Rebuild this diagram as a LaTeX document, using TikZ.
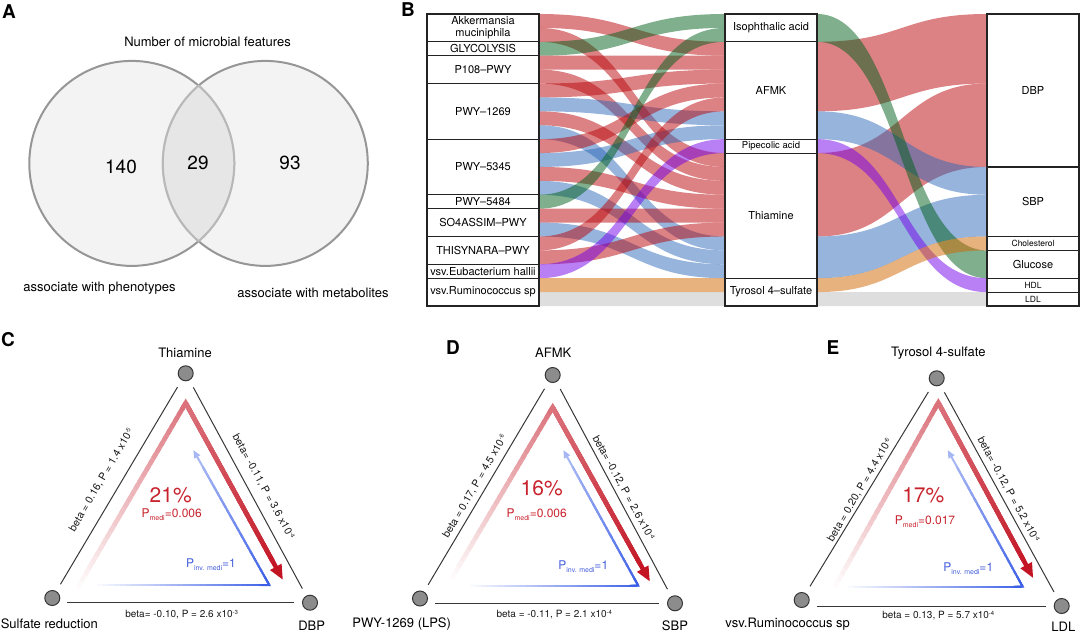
\documentclass[tikz,border=0pt]{standalone}
\usepackage{fontspec}
\setmainfont{TeX Gyre Heros}
\usetikzlibrary{arrows.meta,calc}
\definecolor{sred}{RGB}{185,5,10}
\definecolor{sblue}{RGB}{45,105,185}
\definecolor{sgreen}{RGB}{0,95,25}
\definecolor{spurple}{RGB}{115,0,235}
\definecolor{sorange}{RGB}{209,101,0}
\definecolor{sgray}{RGB}{189,189,189}
\definecolor{mred}{RGB}{195,20,35}
\definecolor{mblue}{RGB}{60,95,230}
\definecolor{tred}{RGB}{200,35,45}
\definecolor{tblue}{RGB}{70,95,220}
\definecolor{vgray}{RGB}{140,140,140}
\definecolor{vdark}{RGB}{55,55,55}
\definecolor{vennfill}{RGB}{243,243,243}
\definecolor{vennline}{RGB}{150,150,150}
\definecolor{vennover}{RGB}{218,218,218}
\definecolor{boxline}{RGB}{35,35,35}

\newcommand\fsz[1]{\fontsize{#1}{#1}\selectfont}
\newcommand\supx[1]{\raisebox{0.6ex}{\fsz{6}#1}}
\newcommand\subx[1]{\raisebox{-0.5ex}{\fsz{7}#1}}

\newcommand\sankeyLM[3]{%
  \fill[#1, fill opacity=0.5] (539,{14+#2*13.905}) .. controls (632,{14+#2*13.905}) and (632,{14+#3*13.905}) .. (725,{14+#3*13.905}) -- (725,{14+(#3+1)*13.905}) .. controls (632,{14+(#3+1)*13.905}) and (632,{14+(#2+1)*13.905}) .. (539,{14+(#2+1)*13.905}) -- cycle;}
\newcommand\sankeyMR[4]{%
  \fill[#1, fill opacity=0.5] (817,{14+#2*13.905}) .. controls (902,{14+#2*13.905}) and (902,{14+#3*13.905}) .. (987,{14+#3*13.905}) -- (987,{14+(#3+#4)*13.905}) .. controls (902,{14+(#3+#4)*13.905}) and (902,{14+(#2+#4)*13.905}) .. (817,{14+(#2+#4)*13.905}) -- cycle;}
\newcommand\stratum[7]{%
  \node[strat, minimum width=#3pt, minimum height={(#5-#4)*13.905pt}, font={\fsz{#6}}] (#1) at (#2,{14+(#4+#5)*6.9525}) {#7};}

\newcommand\redarrow[3]{%
  \draw[line width=4.5pt, mred, -{Triangle[length=15pt,width=12pt]}] (#2) -- (#3);
  \foreach \i in {1,...,30}{%
    \pgfmathsetmacro\pa{(\i-1)/30}%
    \pgfmathsetmacro\pb{min(1,(\i+0.7)/30)}%
    \pgfmathtruncatemacro\pc{2+58*(\i-0.5)/30}%
    \draw[line width=4.5pt, mred!\pc!white] ($(#1)!\pa!(#2)$) -- ($(#1)!\pb!(#2)$);
  }%
  \foreach \i in {1,...,25}{%
    \pgfmathsetmacro\pa{0.9*(\i-1)/25}%
    \pgfmathsetmacro\pb{0.9*min(1,(\i+0.7)/25)}%
    \pgfmathtruncatemacro\pc{60+38*(\i-0.5)/25}%
    \draw[line width=4.5pt, mred!\pc!white] ($(#2)!\pa!(#3)$) -- ($(#2)!\pb!(#3)$);
  }%
  \draw[line width=4.5pt, mred!60!white, line join=miter] ($(#2)!0.04!(#1)$) -- (#2) -- ($(#2)!0.04!(#3)$);
}
\newcommand\bluearrow[3]{%
  \draw[line width=2pt, mblue!45!white, -{Triangle[length=8pt,width=6.5pt]}] (#2) -- (#3);
  \foreach \i in {1,...,30}{%
    \pgfmathsetmacro\pa{(\i-1)/30}%
    \pgfmathsetmacro\pb{min(1,(\i+0.7)/30)}%
    \pgfmathtruncatemacro\pc{3+97*(\i-0.5)/30}%
    \draw[line width=2pt, mblue!\pc!white] ($(#1)!\pa!(#2)$) -- ($(#1)!\pb!(#2)$);
  }%
  \foreach \i in {1,...,20}{%
    \pgfmathsetmacro\pa{0.88*(\i-1)/20}%
    \pgfmathsetmacro\pb{0.88*min(1,(\i+0.7)/20)}%
    \pgfmathtruncatemacro\pc{100-53*(\i-0.5)/20}%
    \draw[line width=2pt, mblue!\pc!white] ($(#2)!\pa!(#3)$) -- ($(#2)!\pb!(#3)$);
  }%
  \draw[line width=2pt, mblue, line join=miter] ($(#2)!0.05!(#1)$) -- (#2) -- ($(#2)!0.05!(#3)$);
}

\tikzset{
  strat/.style={draw=boxline, line width=1.1pt, fill=white, inner sep=0pt, align=center},
  vtx/.style={circle, minimum size=15pt, inner sep=0pt, fill=vgray, draw=vdark, line width=1pt},
  vlab/.style={font={\fsz{13}}, inner sep=0pt},
  triedge/.style={draw=vdark, line width=1pt, shorten <=8pt, shorten >=8pt},
  elab/.style={font={\fsz{10}}, inner sep=0pt, text=black!90},
  slab/.style={font={\fsz{10.5}}, inner sep=0pt, text=black!90},
  plab/.style={font={\bfseries\fsz{19}}, inner sep=0pt},
  pctlab/.style={font={\fsz{21}}, text=tred, inner sep=0pt},
  pmed/.style={font={\fsz{12}}, text=tred, inner sep=0pt},
  pinv/.style={font={\fsz{12}}, text=tblue, inner sep=0pt},
  vtext/.style={font={\fsz{13}}, inner sep=0pt},
  vnum/.style={font={\fsz{19}}, inner sep=0pt},
}

\begin{document}
\begin{tikzpicture}[x=1pt,y=-1pt]
\useasboundingbox (0,0) rectangle (1080,635);

% ---------------- Panel A ----------------
\node[plab] (labA) at (9,12) {A};
\node[vtext] (vtitle) at (207.5,42) {Number of microbial features};
\fill[vennfill] (131.8,163.4) circle (102.5pt);
\fill[vennfill] (265.3,163.4) circle (102.5pt);
\draw[vennline, line width=2pt] (131.8,163.4) circle (102.5pt);
\draw[vennline, line width=2pt] (265.3,163.4) circle (102.5pt);
\begin{scope}
  \clip (131.8,163.4) circle (103.5pt);
  \fill[vennover, opacity=0.5] (265.3,163.4) circle (103.5pt);
\end{scope}
\node[vnum] (n140) at (121,167) {140};
\node[vnum] (n29) at (198,163) {29};
\node[vnum] (n93) at (290,163) {93};
\node[vtext] (vphen) at (99.5,288) {associate with phenotypes};
\node[vtext] (vmeta) at (313,293) {associate with metabolites};

% ---------------- Panel B ----------------
\node[plab] (labB) at (408,10) {B};
\sankeyLM{sred}{0}{2}
\sankeyLM{sred}{1}{10}
\sankeyLM{sgreen}{2}{0}
\sankeyLM{sred}{3}{3}
\sankeyLM{sred}{4}{11}
\sankeyLM{sred}{5}{4}
\sankeyLM{sblue}{6}{7}
\sankeyLM{sred}{7}{12}
\sankeyLM{sblue}{8}{16}
\sankeyLM{sred}{9}{5}
\sankeyLM{sblue}{10}{8}
\sankeyLM{sred}{11}{13}
\sankeyLM{sblue}{12}{17}
\sankeyLM{sgreen}{13}{1}
\sankeyLM{sred}{14}{14}
\sankeyLM{sblue}{15}{18}
\sankeyLM{sred}{16}{6}
\sankeyLM{sred}{17}{15}
\sankeyLM{spurple}{18}{9}
\sankeyLM{sorange}{19}{19}
\sankeyLM{sgray}{20}{20}

\sankeyMR{sred}{2}{0}{5}
\sankeyMR{sred}{10}{5}{6}
\sankeyMR{sblue}{7}{11}{2}
\sankeyMR{sblue}{16}{13}{3}
\sankeyMR{sgreen}{0}{17}{2}
\sankeyMR{spurple}{9}{19}{1}
\sankeyMR{sorange}{19}{16}{1}
\sankeyMR{sgray}{20}{20}{1}

\stratum{akk}{483}{112}{0}{2}{11}{Akkermansia\\[1pt]muciniphila}
\stratum{gly}{483}{112}{2}{3}{11}{GLYCOLYSIS}
\stratum{p108}{483}{112}{3}{5}{11}{P108–PWY}
\stratum{pa}{483}{112}{5}{9}{11}{PWY–1269}
\stratum{pb}{483}{112}{9}{13}{11}{PWY–5345}
\stratum{pc}{483}{112}{13}{14}{11}{PWY–5484}
\stratum{so4}{483}{112}{14}{16}{11}{SO4ASSIM–PWY}
\stratum{thisy}{483}{112}{16}{18}{11}{THISYNARA–PWY}
\stratum{eub}{483}{112}{18}{19}{11}{vsv.Eubacterium hallii}
\stratum{rum}{483}{112}{19}{21}{11}{vsv.Ruminococcus sp}

\stratum{iso}{771}{92}{0}{2}{11}{Isophthalic acid}
\stratum{afmk}{771}{92}{2}{9}{11}{AFMK}
\stratum{pip}{771}{92}{9}{10}{9.5}{Pipecolic acid}
\stratum{thia}{771}{92}{10}{19}{11}{Thiamine}
\stratum{tyr}{771}{92}{19}{21}{11}{Tyrosol 4–sulfate}

\stratum{dbp}{1033}{92}{0}{11}{11}{DBP}
\stratum{sbp}{1033}{92}{11}{16}{11}{SBP}
\stratum{chol}{1033}{92}{16}{17}{8.5}{Cholesterol}
\stratum{glu}{1033}{92}{17}{19}{11}{Glucose}
\stratum{hdl}{1033}{92}{19}{20}{8.5}{HDL}
\stratum{ldl}{1033}{92}{20}{21}{8.5}{LDL}

% ---------------- Panel C ----------------
\node[plab] (labC) at (8,340) {C};
\coordinate (Crs) at (78,587);
\coordinate (Cra) at (185.7,403);
\coordinate (Crt) at (283,580);
\coordinate (Cbs) at (96.7,585);
\coordinate (Cbc) at (269.3,585);
\coordinate (Cbt) at (193.3,450);
\redarrow{Crs}{Cra}{Crt}
\bluearrow{Cbs}{Cbc}{Cbt}
\node[vtx] (Ct) at (185.7,373.3) {};
\node[vtx] (Cl) at (52.3,598) {};
\node[vtx] (Cr) at (310,602.7) {};
\draw[triedge] (Cl) -- (Ct);
\draw[triedge] (Ct) -- (Cr);
\draw[triedge, shorten <=7pt] (Cl.east |- Cr) -- (Cr);
\node[vlab] (Ctl) at (185,353) {Thiamine};
\node[vlab] (Cll) at (49.3,624) {Sulfate reduction};
\node[vlab] (Crl) at (311.7,626) {DBP};
\node[slab, rotate=59.6] (Cel) at (101.7,480) {beta = 0.16, P = 1.4 x10\supx{-5}};
\node[slab, rotate=-61.3] (Cer) at (263.3,486.7) {beta= -0.11, P = 3.6 x10\supx{-4}};
\node[elab] (Ceb) at (181.7,615) {beta= -0.10, P = 2.6 x10\supx{-3}};
\node[pctlab] (Cpct) at (170.7,495) {21\%};
\node[pmed] (Cpm) at (171.7,515) {P\subx{medi}=0.006};
\node[pinv] (Cpi) at (211,565) {P\subx{inv. medi}=1};

% ---------------- Panel D ----------------
\node[plab] (labD) at (453,348) {D};
\coordinate (Drs) at (451.7,578.3);
\coordinate (Dra) at (552.7,407.3);
\coordinate (Drt) at (650,581.7);
\coordinate (Dbs) at (470,585.7);
\coordinate (Dbc) at (638.3,585.7);
\coordinate (Dbt) at (563.3,450);
\redarrow{Drs}{Dra}{Drt}
\bluearrow{Dbs}{Dbc}{Dbt}
\node[vtx] (Dt) at (552.7,375) {};
\node[vtx] (Dl) at (420,598.5) {};
\node[vtx] (Dr) at (675,603.3) {};
\draw[triedge] (Dl) -- (Dt);
\draw[triedge] (Dt) -- (Dr);
\draw[triedge, shorten <=7pt] (Dl.east |- Dr) -- (Dr);
\node[vlab] (Dtl) at (553.3,352.7) {AFMK};
\node[vlab] (Dll) at (401.7,624) {PWY-1269 (LPS)};
\node[vlab] (Drl) at (675,626) {SBP};
\node[slab, rotate=59.9] (Del) at (475,486.7) {beta = 0.17, P = 4.5 x10\supx{-6}};
\node[slab, rotate=-61.3] (Der) at (623.3,488.3) {beta= -0.12, P = 2.6 x10\supx{-4}};
\node[elab] (Deb) at (554.3,615) {beta = -0.11, P = 2.1 x10\supx{-4}};
\node[pctlab] (Dpct) at (541.7,488.3) {16\%};
\node[pmed] (Dpm) at (536.7,515) {P\subx{medi}=0.006};
\node[pinv] (Dpi) at (583.3,566.7) {P\subx{inv. medi}=1};

% ---------------- Panel E ----------------
\node[plab] (labE) at (833,348) {E};
\coordinate (Ers) at (835,586.7);
\coordinate (Era) at (938.3,402.7);
\coordinate (Ert) at (1033.3,578.3);
\coordinate (Ebs) at (848.3,586.7);
\coordinate (Ebc) at (1022.7,586.7);
\coordinate (Ebt) at (947.7,450);
\redarrow{Ers}{Era}{Ert}
\bluearrow{Ebs}{Ebc}{Ebt}
\node[vtx] (Et) at (936.7,378.3) {};
\node[vtx] (El) at (801.7,600) {};
\node[vtx] (Er) at (1061.7,606) {};
\draw[triedge] (El) -- (Et);
\draw[triedge] (Et) -- (Er);
\draw[triedge, shorten <=7pt] (El.east |- Er) -- (Er);
\node[vlab] (Etl) at (938.3,353.3) {Tyrosol 4-sulfate};
\node[vlab] (Ell) at (787.7,624) {vsv.Ruminococcus sp};
\node[vlab] (Erl) at (1063.3,626.7) {LDL};
\node[slab, rotate=59.6] (Eel) at (860,490) {beta = 0.20, P = 4.4 x10\supx{-6}};
\node[slab, rotate=-61.3] (Eer) at (1008.3,490) {beta= -0.12, P = 5.2 x10\supx{-4}};
\node[elab] (Eeb) at (938.3,616) {beta = 0.13, P = 5.7 x10\supx{-4}};
\node[pctlab] (Epct) at (923.3,495) {17\%};
\node[pmed] (Epm) at (925,521.7) {P\subx{medi}=0.017};
\node[pinv] (Epi) at (968.3,568.3) {P\subx{inv. medi}=1};
\end{tikzpicture}
\end{document}
